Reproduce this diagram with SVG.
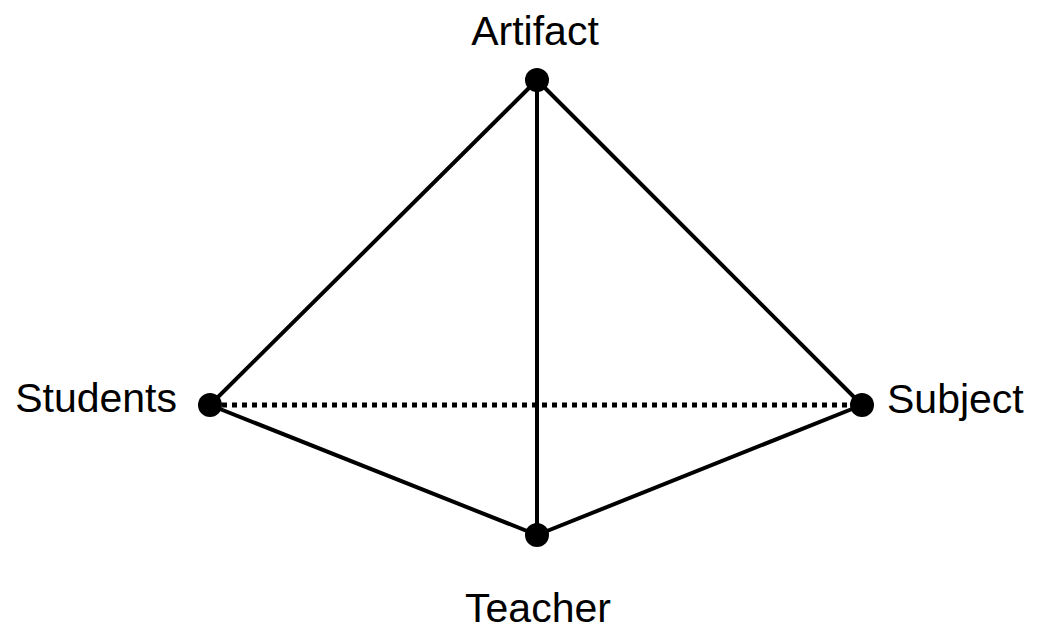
<svg xmlns="http://www.w3.org/2000/svg" width="1041" height="632" viewBox="0 0 1041 632">
<style>
.edge{stroke:#000;stroke-width:4;fill:none;stroke-linecap:round}
.dotted{stroke:#000;stroke-width:5;fill:none;stroke-dasharray:5 5}
.dot{fill:#000}
.lbl{font-family:"Liberation Sans",Arial,sans-serif;font-size:41px;fill:#000}
</style>
<rect width="1041" height="632" fill="#fff"/>
<g id="connectors">
<line class="dotted" x1="222" y1="405" x2="850" y2="405"/>
<line class="edge" x1="537" y1="80" x2="210" y2="405"/>
<line class="edge" x1="537" y1="80" x2="862" y2="405"/>
<line class="edge" x1="537" y1="80" x2="537" y2="535"/>
<line class="edge" x1="210" y1="405" x2="537" y2="535"/>
<line class="edge" x1="862" y1="405" x2="537" y2="535"/>
</g>
<g id="artifact">
<circle class="dot" cx="537" cy="80" r="12"/>
<text class="lbl" x="535" y="45" text-anchor="middle">Artifact</text>
</g>
<g id="students">
<circle class="dot" cx="210" cy="405" r="12"/>
<text class="lbl" x="177" y="412" text-anchor="end">Students</text>
</g>
<g id="subject">
<circle class="dot" cx="862" cy="405" r="12"/>
<text class="lbl" x="887" y="413">Subject</text>
</g>
<g id="teacher">
<circle class="dot" cx="537" cy="535" r="12"/>
<text class="lbl" x="538" y="622" text-anchor="middle">Teacher</text>
</g>
</svg>
